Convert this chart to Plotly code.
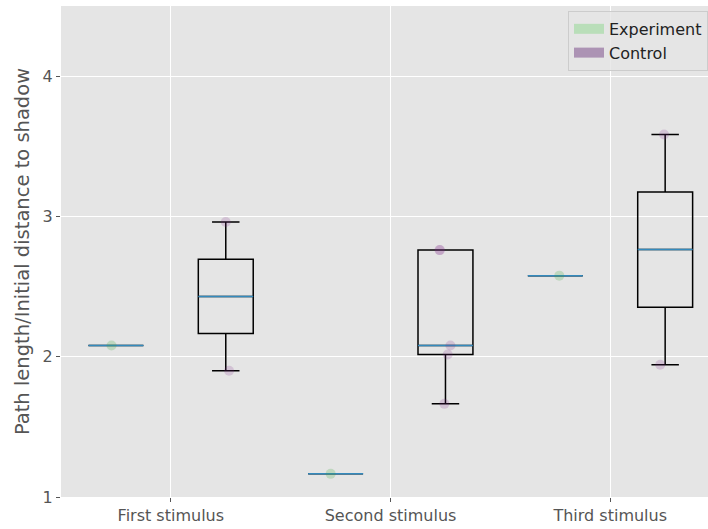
import numpy as np
import plotly.graph_objects as go

# ---- data ----
categories = ["First stimulus", "Second stimulus", "Third stimulus"]
experiment_values = [[2.08], [1.165], [2.578]]
control_values = [[1.90, 2.96], [1.664, 2.016, 2.08, 2.76, 2.76], [1.943, 3.584]]
experiment_jitter = [[-0.04], [-0.045], [0.036]]
control_jitter = [[0.03, 0.0], [-0.01, 0.02, 0.045, -0.055, -0.05], [-0.045, -0.01]]

# ---- style ----
FONT = "DejaVu Sans"
BG = "#E5E5E5"
MEDIAN = "#348ABD"
EXP_PT = "rgba(60,170,60,0.22)"
CTL_PT = "rgba(128,40,140,0.18)"
EXP_LEG = "#B9DEB9"
CTL_LEG = "#AC93B4"
BOX_W = 0.5


def box_stats(v):
    v = np.sort(np.asarray(v, dtype=float))
    q1, med, q3 = np.percentile(v, [25, 50, 75])
    iqr = q3 - q1
    lo = v[v >= q1 - 1.5 * iqr].min()
    hi = v[v <= q3 + 1.5 * iqr].max()
    return q1, med, q3, lo, hi


fig = go.Figure()

tickvals = []
for i, cat in enumerate(categories):
    p_exp = 2 * i + 1
    p_ctl = 2 * i + 2
    tickvals.append((p_exp + p_ctl) / 2)
    for pos, vals, jit, ptcol in [
        (p_exp, experiment_values[i], experiment_jitter[i], EXP_PT),
        (p_ctl, control_values[i], control_jitter[i], CTL_PT),
    ]:
        q1, med, q3, lo, hi = box_stats(vals)
        fig.add_trace(go.Box(
            x=[pos], q1=[q1], median=[med], q3=[q3],
            lowerfence=[lo], upperfence=[hi],
            width=BOX_W, whiskerwidth=0.5,
            line=dict(color="black", width=1.5),
            fillcolor="rgba(0,0,0,0)", boxpoints=False,
            showlegend=False, hoverinfo="skip",
        ))
        fig.add_trace(go.Box(
            x=[pos], q1=[med], median=[med], q3=[med],
            lowerfence=[med], upperfence=[med],
            width=BOX_W, whiskerwidth=0,
            line=dict(color=MEDIAN, width=1.5),
            fillcolor="rgba(0,0,0,0)", boxpoints=False,
            showlegend=False, hoverinfo="skip",
        ))
        sv = np.sort(np.asarray(vals, dtype=float))
        fig.add_trace(go.Scatter(
            x=[pos + j for j in jit], y=sv, mode="markers",
            marker=dict(size=10, color=ptcol, line=dict(width=0)),
            showlegend=False, hoverinfo="skip",
        ))

# legend entries
fig.add_trace(go.Scatter(x=[None], y=[None], mode="lines", name="Experiment",
                         line=dict(color=EXP_LEG, width=12)))
fig.add_trace(go.Scatter(x=[None], y=[None], mode="lines", name="Control",
                         line=dict(color=CTL_LEG, width=12)))

fig.update_layout(
    width=708, height=529,
    margin=dict(l=61, r=0, t=6, b=32),
    paper_bgcolor="white",
    plot_bgcolor=BG,
    boxmode="overlay",
    font=dict(family=FONT, size=16, color="#555555"),
    legend=dict(
        x=1.0, xanchor="right", y=0.99, yanchor="top",
        bgcolor="rgba(229,229,229,0.8)", bordercolor="#CCCCCC", borderwidth=1,
        font=dict(family=FONT, size=16, color="#222222"),
    ),
    xaxis=dict(
        range=[0.5, 6.39], tickmode="array", tickvals=tickvals, ticktext=categories,
        showgrid=True, gridcolor="white", gridwidth=1, zeroline=False,
        ticks="outside", ticklen=4, tickcolor="#555555", showline=False,
        tickfont=dict(family=FONT, size=16, color="#555555"),
    ),
    yaxis=dict(
        range=[1.0, 4.5], tickvals=[1, 2, 3, 4],
        showgrid=True, gridcolor="white", gridwidth=1, zeroline=False,
        ticks="outside", ticklen=4, tickcolor="#555555", showline=False,
        tickfont=dict(family=FONT, size=16, color="#555555"),
        title=dict(text="Path length/Initial distance to shadow",
                   font=dict(family=FONT, size=19.5, color="#555555"), standoff=7),
    ),
)

fig.write_html("out.html")
